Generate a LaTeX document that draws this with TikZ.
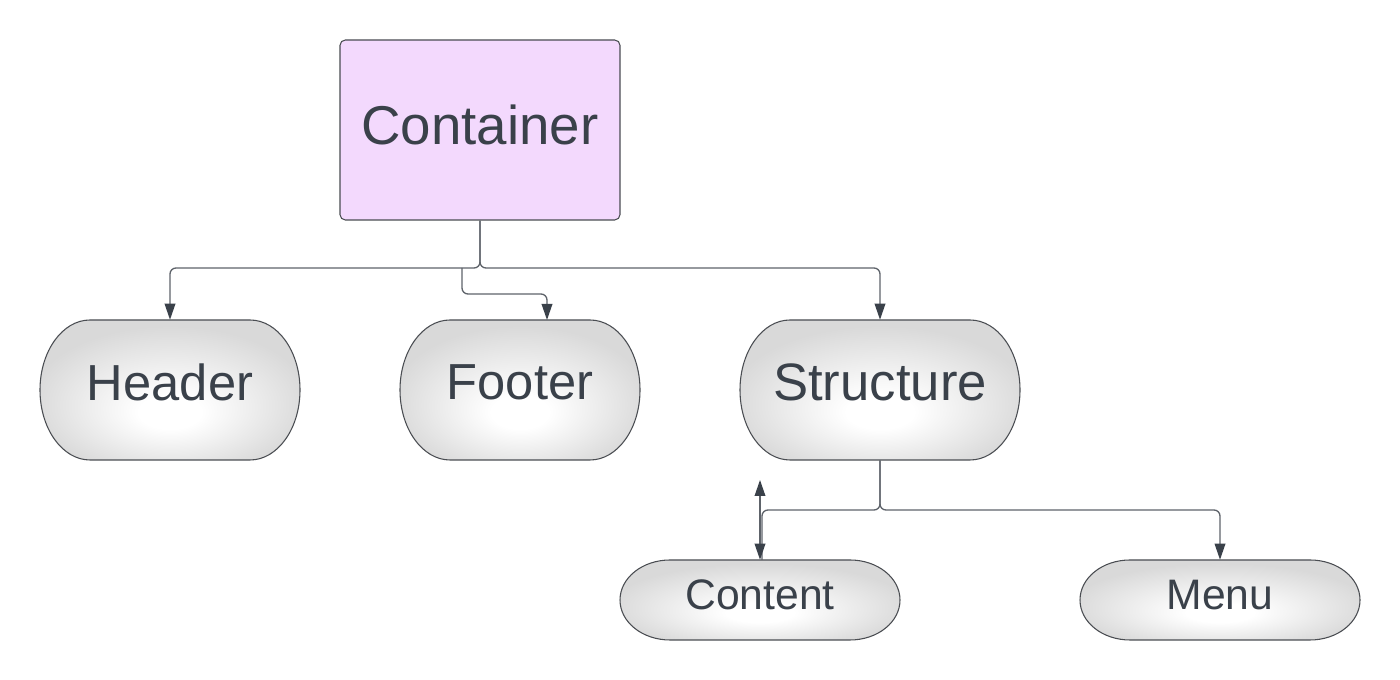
\documentclass[tikz,border=0pt]{standalone}
\usepackage{fontspec}
\setmainfont{Liberation Sans}
\usetikzlibrary{arrows.meta}
\definecolor{txt}{HTML}{3A414A}
\definecolor{conn}{HTML}{5E636A}
\definecolor{bord}{HTML}{4A4D52}
\definecolor{lav}{HTML}{F3D9FD}
\definecolor{shgray}{HTML}{D9D9D9}
\pgfdeclareradialshading{pillshade}{\pgfpoint{0bp}{-9bp}}{color(0bp)=(white);color(6bp)=(white);color(27bp)=(shgray);color(50bp)=(shgray)}
\newcommand\pillpath[5]{(#1-#3/2+#5,#2+#4/2) -- (#1+#3/2-#5,#2+#4/2) arc[start angle=90,end angle=-90,x radius=#5,y radius=#4/2] -- (#1-#3/2+#5,#2-#4/2) arc[start angle=270,end angle=90,x radius=#5,y radius=#4/2] -- cycle}
\tikzset{
  pill/.style={draw=bord,line width=0.8pt,shading=pillshade},
  big/.style={font=\fontsize{38}{44}\selectfont,text depth=12pt},
  small/.style={font=\fontsize{32}{38}\selectfont,text depth=7.5pt},
  conn/.style={draw=conn,line width=1pt,rounded corners=4.5pt},
  tip/.tip={Triangle[width=8pt,length=12pt,fill=txt,color=txt]},
  arr/.style={-tip},
}
\begin{document}
\begin{tikzpicture}[x=0.75pt,y=0.75pt]
\useasboundingbox[fill=white] (0,0) rectangle (1400,680);
% container
\node[draw=bord,line width=0.8pt,fill=lav,rounded corners=4pt,minimum width=210pt,minimum height=135pt,inner sep=0pt,text=txt,font=\fontsize{41}{48}\selectfont,text depth=7.5pt] (cont) at (480,550) {Container};
% pills
\path[pill] \pillpath{170}{290}{260}{140}{50};
\path[pill] \pillpath{520}{290}{240}{140}{50};
\path[pill] \pillpath{880}{290}{280}{140}{50};
\path[pill] \pillpath{760}{80}{280}{80}{50};
\path[pill] \pillpath{1220}{80}{280}{80}{50};
\node[inner sep=0pt,text=txt,big,minimum width=195pt,minimum height=105pt] (hdr) at (170,290) {Header};
\node[inner sep=0pt,text=txt,big,minimum width=180pt,minimum height=105pt] (ftr) at (520,290) {Footer};
\node[inner sep=0pt,text=txt,big,font=\fontsize{39.5}{46}\selectfont,minimum width=210pt,minimum height=105pt] (str) at (880,290) {Structure};
\node[inner sep=0pt,text=txt,small,minimum width=210pt,minimum height=60pt] (cnt) at (760,80) {Content};
\node[inner sep=0pt,text=txt,small,minimum width=210pt,minimum height=60pt] (menu) at (1220,80) {Menu};
% junction coordinates
\coordinate (j1) at (480,412);
\coordinate (j2) at (880,170);
\coordinate (cup) at (760,200);
% connectors
\draw[conn,arr] (cont.south) |- (j1) -| (hdr.north);
\draw[conn,arr] (462,412) |- (547,386) -- (547,360);
\draw[conn,arr] (cont.south) |- (j1) -| (str.north);
\draw[conn] (str.south) |- (j2) -| (762,120);
\draw[conn,arr] (str.south) |- (j2) -| (menu.north);
\draw[conn,tip-tip] (cup) -- (cnt.north);
\end{tikzpicture}
\end{document}
